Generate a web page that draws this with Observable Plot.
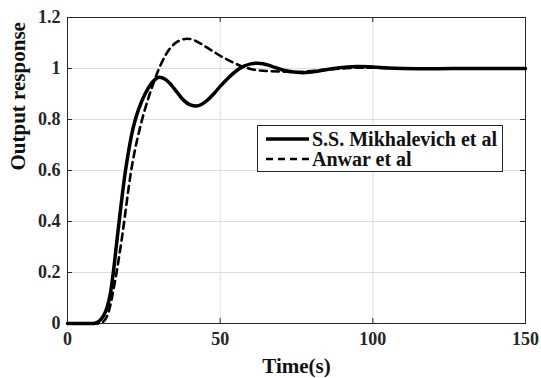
<!DOCTYPE html>
<html>
<head>
<meta charset="utf-8">
<script src="https://cdn.jsdelivr.net/npm/d3@7"></script>
<script src="https://cdn.jsdelivr.net/npm/@observablehq/plot@0.6"></script>
<style>
  html, body { margin: 0; padding: 0; background: #fff; }
  #wrap { position: relative; width: 541px; height: 378px; }
  #chart svg text { font-family: "Liberation Serif", "Times New Roman", serif; font-weight: bold; }
  #legend { position: absolute; left: 257px; top: 125px; width: 244px; height: 45px;
    border: 1px solid #262626; background: #fff; font-family: "Liberation Serif", "Times New Roman", serif;
    font-weight: bold; font-size: 20px; color: #111; }
  #legend .row { position: absolute; left: 0; height: 20px; display: flex; align-items: center; white-space: nowrap; }
  #legend svg { margin-left: 8px; margin-right: 3px; }
</style>
</head>
<body>
<div id="wrap"><div id="chart"></div><div id="legend"></div></div>
<script>
const seriesNames = ["S.S. Mikhalevich et al", "Anwar et al"];

const timeMikhalevich = [0, 5, 8, 9, 10, 11, 12, 13, 14, 15, 16, 17, 18, 19, 20, 21, 22, 23, 24, 25, 26, 27, 28, 29, 30, 32, 34, 36, 38, 40, 42, 44, 46, 48, 50, 52, 54, 56, 58, 60, 62, 64, 66, 68, 70, 72, 75, 78, 81, 85, 90, 95, 100, 105, 110, 120, 130, 140, 150];
const valueMikhalevich = [0, 0, 0, 0.001, 0.006, 0.017, 0.035, 0.065, 0.115, 0.2, 0.305, 0.41, 0.51, 0.6, 0.675, 0.74, 0.79, 0.83, 0.862, 0.89, 0.913, 0.933, 0.949, 0.96, 0.966, 0.958, 0.935, 0.905, 0.876, 0.858, 0.853, 0.86, 0.878, 0.902, 0.93, 0.955, 0.978, 0.997, 1.01, 1.018, 1.021, 1.019, 1.012, 1.004, 0.996, 0.99, 0.985, 0.984, 0.988, 0.996, 1.004, 1.008, 1.006, 1.002, 1.0, 0.999, 1.0, 1.0, 1.0];

const timeAnwar = [0, 10, 11, 12, 13, 14, 15, 16, 17, 18, 19, 20, 21, 22, 23, 24, 25, 26, 27, 28, 29, 30, 32, 34, 36, 38, 40, 42, 44, 46, 48, 50, 52, 54, 56, 58, 60, 63, 66, 70, 75, 80, 85, 90, 95, 100, 110, 120, 150];
const valueAnwar = [0, 0, 0.003, 0.01, 0.03, 0.07, 0.13, 0.195, 0.27, 0.35, 0.44, 0.53, 0.61, 0.675, 0.73, 0.78, 0.825, 0.865, 0.903, 0.937, 0.97, 1.0, 1.05, 1.085, 1.105, 1.115, 1.116, 1.108, 1.095, 1.08, 1.065, 1.05, 1.037, 1.025, 1.014, 1.005, 0.998, 0.992, 0.99, 0.988, 0.986, 0.99, 0.996, 1.0, 1.003, 1.003, 1.0, 1.0, 1.0];

const xTicks = [0, 50, 100, 150];
const yTicks = [0, 0.2, 0.4, 0.6, 0.8, 1, 1.2];
const xLabel = "Time(s)";
const yLabel = "Output response";

const mikh = timeMikhalevich.map((t, i) => ({t, v: valueMikhalevich[i]}));
const anwar = timeAnwar.map((t, i) => ({t, v: valueAnwar[i]}));

const W = 541, H = 378, mL = 67, mR = 16, mT = 17, mB = 55;
const ink = "#262626";
const fontSerif = "'Liberation Serif', 'Times New Roman', serif";

const chart = Plot.plot({
  width: W, height: H,
  marginLeft: mL, marginRight: mR, marginTop: mT, marginBottom: mB,
  x: {domain: [0, 150]},
  y: {domain: [0, 1.2]},
  style: {fontFamily: fontSerif, fontWeight: "bold", fontSize: "18px", color: ink, background: "#fff"},
  marks: [
    Plot.gridX(xTicks, {stroke: "#dedede", strokeOpacity: 1, strokeWidth: 1}),
    Plot.gridY(yTicks, {stroke: "#dedede", strokeOpacity: 1, strokeWidth: 1}),
    Plot.tickX(xTicks, {x: d => d, stroke: ink, insetBottom: H - mT - mB - 5}),
    Plot.tickX(xTicks, {x: d => d, stroke: ink, insetTop: H - mT - mB - 5}),
    Plot.tickY(yTicks, {y: d => d, stroke: ink, insetRight: W - mL - mR - 5}),
    Plot.tickY(yTicks, {y: d => d, stroke: ink, insetLeft: W - mL - mR - 5}),
    Plot.axisX(xTicks, {tickSize: 0, tickPadding: 9, label: null, fontSize: 18, fill: ink}),
    Plot.axisY(yTicks, {tickSize: 0, tickPadding: 7, label: null, fontSize: 18, fill: ink, tickFormat: d => String(d)}),
    Plot.frame({stroke: ink, strokeWidth: 1}),
    Plot.line(mikh, {x: "t", y: "v", curve: "catmull-rom", stroke: "#000", strokeWidth: 3.5}),
    Plot.line(anwar, {x: "t", y: "v", curve: "catmull-rom", stroke: "#000", strokeWidth: 2.6, strokeDasharray: "7,5"}),
    Plot.text([xLabel], {frameAnchor: "bottom", dy: 49, fontSize: 21, fontWeight: "bold", fill: "#111"}),
    Plot.text([yLabel], {frameAnchor: "left", dx: -49, rotate: -90, fontSize: 21, fontWeight: "bold", fill: "#111"})
  ]
});
document.getElementById("chart").appendChild(chart);

const legend = document.getElementById("legend");
const dashes = [null, "7,5"];
const widths = [3.5, 2.6];
seriesNames.forEach((name, i) => {
  const row = document.createElement("div");
  row.className = "row";
  row.style.top = (3 + i * 20) + "px";
  row.innerHTML = `<svg width="43" height="8"><line x1="0" x2="43" y1="4" y2="4" stroke="#000" stroke-width="${widths[i]}" ${dashes[i] ? `stroke-dasharray="${dashes[i]}"` : ""}/></svg><span>${name}</span>`;
  legend.appendChild(row);
});
</script>
</body>
</html>
